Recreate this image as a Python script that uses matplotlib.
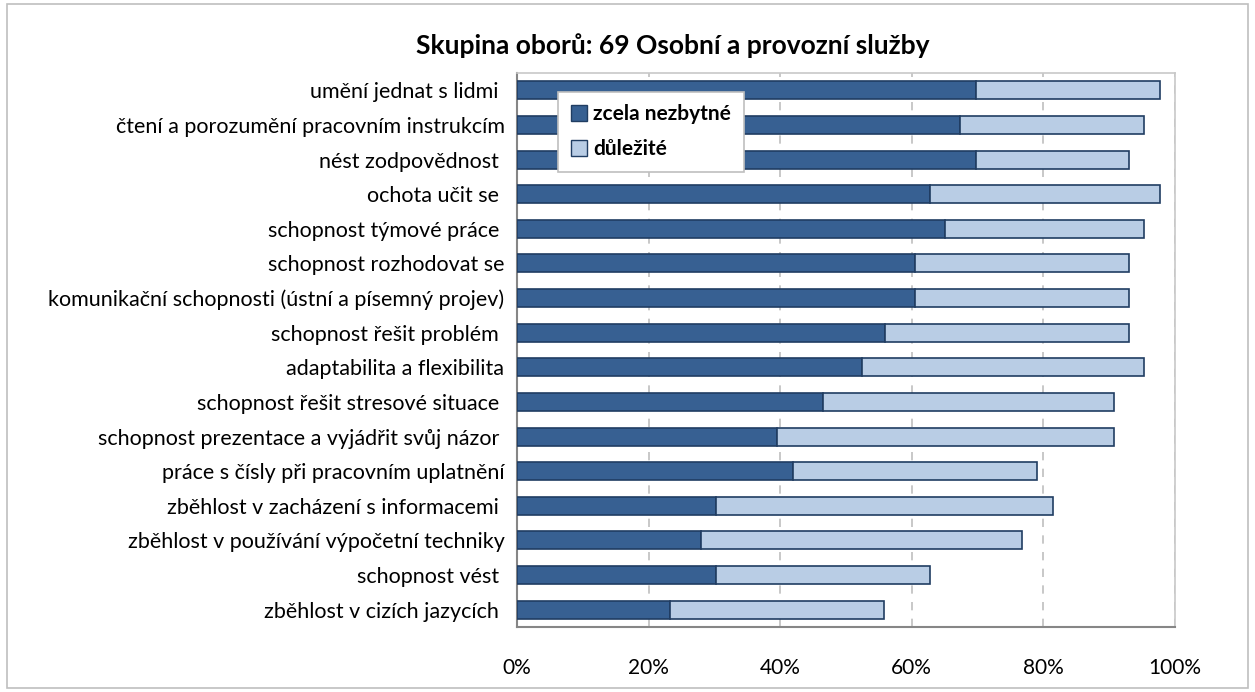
import numpy as np
import matplotlib.pyplot as plt
from matplotlib.patches import Rectangle

plt.rcParams['font.family'] = ['Lato', 'DejaVu Sans']

# data (top to bottom as in the chart)
categories = [
    "umění jednat s lidmi ",
    "čtení a porozumění pracovním instrukcím",
    "nést zodpovědnost ",
    "ochota učit se ",
    "schopnost týmové práce ",
    "schopnost rozhodovat se",
    "komunikační schopnosti (ústní a písemný projev)",
    "schopnost řešit problém ",
    "adaptabilita a flexibilita",
    "schopnost řešit stresové situace ",
    "schopnost prezentace a vyjádřit svůj názor ",
    "práce s čísly při pracovním uplatnění",
    "zběhlost v zacházení s informacemi ",
    "zběhlost v používání výpočetní techniky",
    "schopnost vést ",
    "zběhlost v cizích jazycích ",
]
zcela = [69.8, 67.4, 69.8, 62.8, 65.1, 60.5, 60.5, 55.9, 52.4, 46.5, 39.5, 41.9, 30.3, 28.0, 30.3, 23.3]
celkem = [97.7, 95.3, 93.0, 97.7, 95.3, 93.0, 93.0, 93.0, 95.3, 90.7, 90.7, 79.0, 81.4, 76.7, 62.8, 55.8]
dulezite = [c - z for c, z in zip(celkem, zcela)]

title = "Skupina oborů: 69 Osobní a provozní služby"
series_names = ["zcela nezbytné", "důležité"]
ticks = [0, 20, 40, 60, 80, 100]

dark = "#376092"
light = "#B9CDE5"
edge = "#203D62"

fig = plt.figure(figsize=(12.55, 6.92), dpi=100)
ax = fig.add_axes([517 / 1255, 1 - 627 / 692, (1175 - 517) / 1255, (627 - 73) / 692])

y = np.arange(len(categories))
ax.barh(y, zcela, height=0.52, color=dark, edgecolor=edge, linewidth=1.2,
        label=series_names[0], zorder=3)
ax.barh(y, dulezite, left=zcela, height=0.52, color=light, edgecolor=edge,
        linewidth=1.2, label=series_names[1], zorder=3)

ax.set_ylim(len(categories) - 0.5, -0.5)
ax.set_xlim(0, 100)
ax.set_yticks(y)
ax.set_yticklabels(categories, fontsize=15.5)
ax.set_xticks(ticks)
ax.set_xticklabels([f"{t}%" for t in ticks], fontsize=15)
ax.tick_params(axis='both', length=0)
ax.tick_params(axis='y', pad=9)
ax.tick_params(axis='x', pad=22)

ax.grid(axis='x', color='#BFBFBF', linestyle=(0, (5, 5)), linewidth=1.2, zorder=0)
for s in ['top', 'right']:
    ax.spines[s].set_color('#C8C8C8')
    ax.spines[s].set_linewidth(1.2)
for s in ['left', 'bottom']:
    ax.spines[s].set_color('#868686')
    ax.spines[s].set_linewidth(1.5)

fig.text(673 / 1255, 1 - 46 / 692, title, ha='center', va='center',
         fontsize=19, fontweight='bold')

leg = ax.legend(loc='upper left', bbox_to_anchor=((558 - 517) / 658, 1 - (92 - 73) / 554),
                borderaxespad=0, frameon=True, fancybox=False, framealpha=1,
                handlelength=0.8, handleheight=0.8, handletextpad=0.3, borderpad=0.6,
                labelspacing=0.7, prop={'weight': 'bold', 'size': 15})
leg.get_frame().set_edgecolor('#BFBFBF')
leg.get_frame().set_linewidth(1.2)
leg.set_zorder(5)
for h in leg.legend_handles:
    h.set_linewidth(1.0)

fig.patches.append(Rectangle((7 / 1255, 4 / 692), 1 - 14 / 1255, 1 - 8 / 692,
                             transform=fig.transFigure, fill=False,
                             edgecolor='#BFBFBF', linewidth=1.2))

fig.savefig("out.png", dpi=100)
